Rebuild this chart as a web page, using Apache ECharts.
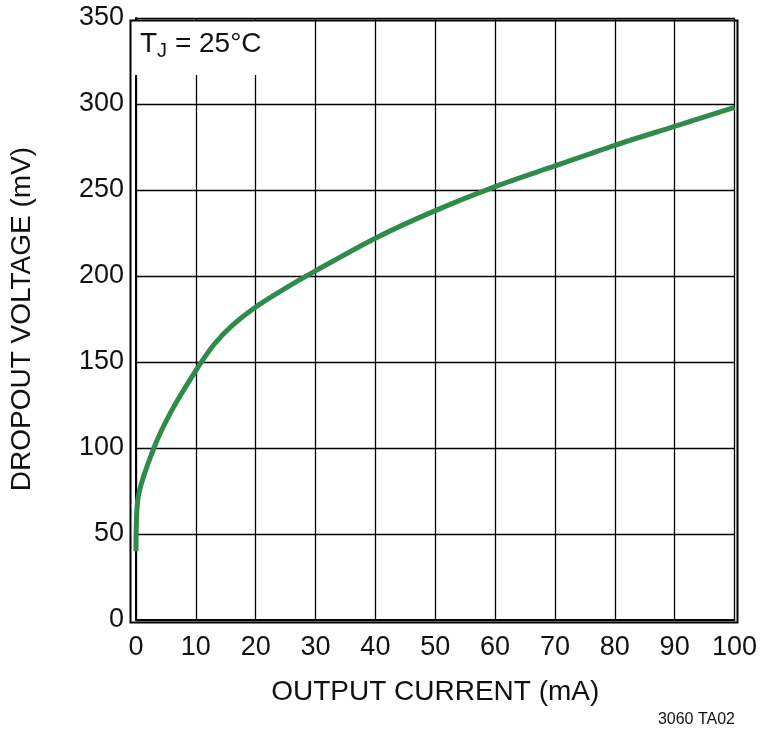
<!DOCTYPE html>
<html><head><meta charset="utf-8">
<script src="https://cdn.jsdelivr.net/npm/echarts@6/dist/echarts.min.js"></script>
<style>html,body{margin:0;background:#fff}#c{width:760px;height:737px}</style>
</head><body><div id="c"></div>
<script>
// output current (mA) vs dropout voltage (mV)
const currents = [0, 0.3, 3, 6, 10, 13, 16, 20, 25, 30, 40, 50, 60, 70, 80, 90, 100];
const dropout = [40, 70, 100, 122, 145, 160, 171, 182, 193, 203, 222, 238, 252, 264, 276, 287, 298];

const font = '"Liberation Sans Narrow", "Liberation Sans", sans-serif';
const chart = echarts.init(document.getElementById('c'));
chart.setOption({
  animation: false,
  grid: { left: 128, right: 25, top: 18, bottom: 117 },
  xAxis: {
    type: 'value', min: 0, max: 100, interval: 10,
    name: 'OUTPUT CURRENT (mA)', nameLocation: 'middle', nameGap: 58,
    nameTextStyle: { fontFamily: font, fontSize: 28, color: '#111' },
    axisLine: { show: true, lineStyle: { color: '#000', width: 2 } },
    axisTick: { show: false },
    axisLabel: { fontFamily: font, fontSize: 27, color: '#111', margin: 14 },
    splitLine: { lineStyle: { color: '#000', width: 1.3 } }
  },
  yAxis: {
    type: 'value', min: 0, max: 350, interval: 50,
    name: 'DROPOUT VOLTAGE (mV)', nameLocation: 'middle', nameGap: 100,
    nameTextStyle: { fontFamily: font, fontSize: 28, color: '#111' },
    axisLine: { show: true, lineStyle: { color: '#000', width: 2 } },
    axisTick: { show: false },
    axisLabel: { fontFamily: font, fontSize: 27, color: '#111', margin: 12 },
    splitLine: { lineStyle: { color: '#000', width: 1.3 } }
  },
  graphic: [
    { type: 'rect', left: 130, top: 20, shape: { width: 145, height: 55 }, style: { fill: '#fff' }, z: 10 },
    { type: 'rect', left: 128, top: 18, shape: { width: 607, height: 602 }, style: { fill: 'none', stroke: '#000', lineWidth: 2 }, z: 11 },
    { type: 'text', left: 140, top: 30, z: 12, style: {
      text: '{a|T}{s|J}{a| = 25°C}',
      rich: { a: { fontFamily: font, fontSize: 28, fill: '#111' }, s: { fontFamily: font, fontSize: 20, fill: '#111', padding: [14, 0, 0, 0] } }
    } },
    { type: 'text', right: 25, top: 712, style: { text: '3060 TA02', fontFamily: font, fontSize: 16, fill: '#111' } }
  ],
  series: [{
    type: 'line', data: currents.map((x, i) => [x, dropout[i]]),
    smooth: 0.3, showSymbol: false, lineStyle: { color: '#2e8b4a', width: 5 }, z: 5
  }]
});
</script></body></html>
